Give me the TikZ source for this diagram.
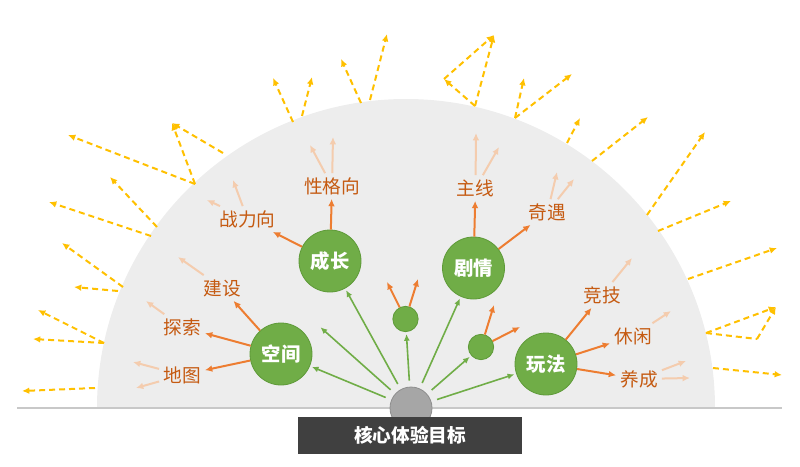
\documentclass[tikz,border=0pt]{standalone}
\usepackage{fontspec}
\setmainfont{Noto Sans CJK SC}
\usetikzlibrary{arrows.meta}
\definecolor{semigray}{HTML}{EDEDED}
\definecolor{baseg}{HTML}{C8C8C8}
\definecolor{coreg}{HTML}{A6A6A6}
\definecolor{coreb}{HTML}{8E8E8E}
\definecolor{boxg}{HTML}{404040}
\definecolor{gfill}{HTML}{70AD47}
\definecolor{gdraw}{HTML}{5E9A38}
\definecolor{oarr}{HTML}{ED7D31}
\definecolor{otext}{HTML}{C55A11}
\definecolor{larr}{HTML}{F4CCAE}
\definecolor{yarr}{HTML}{FFC000}
\begin{document}
\begin{tikzpicture}[x=0.75pt,y=-0.75pt,
  core/.style={circle,fill=coreg,draw=coreb,line width=0.6pt,minimum size=31.5pt,inner sep=0pt},
  titlebox/.style={rectangle,fill=boxg,minimum width=168pt,minimum height=27.75pt,inner sep=0pt,
     text=white,font=\fontsize{14pt}{14pt}\selectfont\bfseries},
  bigc/.style={circle,fill=gfill,draw=gdraw,line width=0.6pt,minimum size=46.5pt,inner sep=0pt,
     text=white,font=\fontsize{14.5pt}{14.5pt}\selectfont\bfseries},
  smallc/.style={circle,fill=gfill,draw=gdraw,line width=0.6pt,minimum size=19pt,inner sep=0pt},
  lbl/.style={text=otext,inner sep=3pt,font=\fontsize{14pt}{14pt}\selectfont},
  garrow/.style={draw=gfill,line width=1.2pt,-{Latex[length=5pt,width=4.5pt]},shorten <=4.5pt,shorten >=1.5pt},
  oarrow/.style={draw=oarr,line width=1.5pt,-{Latex[length=5.5pt,width=5pt]}},
  larrow/.style={draw=larr,line width=1.5pt,-{Latex[length=5.5pt,width=5pt]}},
  yarrow/.style={draw=yarr,line width=1.5pt,dash pattern=on 4.5pt off 3pt,-{Latex[length=5.5pt,width=5pt]}},
  yline/.style={draw=yarr,line width=1.5pt,dash pattern=on 4.5pt off 3pt}
]
\useasboundingbox (0,0) rectangle (800,467);
% background half disc
\fill[semigray] (97,408) arc[start angle=180,end angle=360,radius=309] -- cycle;
\draw[baseg,line width=1.2pt] (17,408) -- (782,408);

% yellow dashed arrow end points
\coordinate (a1) at (95,388);  \coordinate (b1) at (22,391);
\coordinate (a2) at (104,343); \coordinate (b2) at (33,339); \coordinate (b3) at (38,310);
\coordinate (a4) at (118,291); \coordinate (b4) at (74,287);
\coordinate (a5) at (123,287); \coordinate (b5) at (62,243);
\coordinate (a6) at (151,236); \coordinate (b6) at (49,202);
\coordinate (a7) at (157,227); \coordinate (b7) at (110,177);
\coordinate (a8) at (195,184); \coordinate (b8) at (68,135); \coordinate (b9) at (172,123);
\coordinate (a10) at (223,153);
\coordinate (a11) at (293,122); \coordinate (b11) at (273,78);
\coordinate (a12) at (302,116); \coordinate (b12) at (312,77);
\coordinate (a13) at (361,103); \coordinate (b13) at (341,59);
\coordinate (a14) at (370,100); \coordinate (b14) at (387,34);
\coordinate (a15) at (475,106); \coordinate (b15) at (444,79); \coordinate (b16) at (494,35);
\coordinate (a18) at (515,118); \coordinate (b18) at (524,78); \coordinate (b19) at (572,74);
\coordinate (a20) at (567,143); \coordinate (b20) at (580,118);
\coordinate (a21) at (592,161); \coordinate (b21) at (648,117);
\coordinate (a22) at (647,215); \coordinate (b22) at (705,132);
\coordinate (a23) at (658,231); \coordinate (b23) at (731,201);
\coordinate (a24) at (688,279); \coordinate (b24) at (777,248);
\coordinate (a25) at (706,333); \coordinate (b25) at (776,307); \coordinate (c25) at (757,339);
\coordinate (a28) at (713,368); \coordinate (b28) at (782,375);

\draw[yarrow] (a1) -- (b1);
\draw[yarrow] (a2) -- (b2);
\draw[yarrow] (a2) -- (b3);
\draw[yarrow] (a4) -- (b4);
\draw[yarrow] (a5) -- (b5);
\draw[yarrow] (a6) -- (b6);
\draw[yarrow] (a7) -- (b7);
\draw[yarrow] (a8) -- (b8);
\draw[yarrow] (a8) -- (b9);
\draw[yarrow] (a10) -- (b9);
\draw[yarrow] (a11) -- (b11);
\draw[yarrow] (a12) -- (b12);
\draw[yarrow] (a13) -- (b13);
\draw[yarrow] (a14) -- (b14);
\draw[yarrow] (a15) -- (b15);
\draw[yarrow] (a15) -- (b16);
\draw[yarrow] (b15) -- (b16);
\draw[yarrow] (a18) -- (b18);
\draw[yarrow] (a18) -- (b19);
\draw[yarrow] (a20) -- (b20);
\draw[yarrow] (a21) -- (b21);
\draw[yarrow] (a22) -- (b22);
\draw[yarrow] (a23) -- (b23);
\draw[yarrow] (a24) -- (b24);
\draw[yarrow] (a25) -- (b25);
\draw[yline] (a25) -- (c25);
\draw[yarrow] (c25) -- (b25);
\draw[yarrow] (a28) -- (b28);

% core and title
\node[core] (core) at (411,408) {};
\node[titlebox] (title) at (410,435.5) {核心体验目标};

% green circles
\node[bigc] (kongjian) at (281,354) {空间};
\node[bigc] (chengzhang) at (330,261) {成长};
\node[bigc] (juqing) at (473.5,268) {剧情};
\node[bigc] (wanfa) at (546,364) {玩法};
\node[smallc] (s1) at (405.5,319) {};
\node[smallc] (s2) at (481,347) {};
\coordinate (g0) at (319,326);

% green arrows
\draw[garrow] (core) -- (kongjian);
\draw[garrow] (core) -- (g0);
\draw[garrow] (core) -- (chengzhang);
\draw[garrow] (core) -- (s1);
\draw[garrow] (core) -- (juqing);
\draw[garrow] (core) -- (s2);
\draw[garrow] (core) -- (wanfa);

% labels
\node[lbl] (jianshe) at (222,288) {建设};
\node[lbl] (tansuo) at (182,327) {探索};
\node[lbl] (ditu) at (182,375) {地图};
\node[lbl] (zhanli) at (247.5,219) {战力向};
\node[lbl] (xingge) at (332,186) {性格向};
\node[lbl] (zhuxian) at (475.5,188) {主线};
\node[lbl] (qiyu) at (547.5,212) {奇遇};
\node[lbl] (jingji) at (602,295) {竞技};
\node[lbl] (xiuxian) at (633,336) {休闲};
\node[lbl] (yangcheng) at (639,379) {养成};

% orange arrows
\draw[oarrow] (kongjian) -- (jianshe);
\draw[oarrow] (kongjian) -- (tansuo);
\draw[oarrow] (kongjian) -- (ditu);
\draw[oarrow] (chengzhang) -- (zhanli);
\draw[oarrow] (chengzhang) -- (xingge);
\draw[oarrow] (juqing) -- (zhuxian);
\draw[oarrow] (juqing) -- (qiyu);
\draw[oarrow] (wanfa) -- (jingji);
\draw[oarrow] (wanfa) -- (xiuxian);
\draw[oarrow] (wanfa) -- (yangcheng);
\coordinate (o1) at (387,282); \coordinate (o2) at (418,279);
\coordinate (o3) at (494,305); \coordinate (o4) at (520,327);
\draw[oarrow] (s1) -- (o1);
\draw[oarrow] (s1) -- (o2);
\draw[oarrow] (s2) -- (o3);
\draw[oarrow] (s2) -- (o4);

% light arrows
\coordinate (l1) at (178,257);
\coordinate (l2) at (146,301);
\coordinate (l3) at (133,362); \coordinate (l4) at (136,388);
\coordinate (l5) at (233,180); \coordinate (l6) at (207,200);
\coordinate (l7) at (333,137); \coordinate (l8) at (310,145);
\coordinate (l9) at (476,133); \coordinate (l10) at (499,147);
\coordinate (l11) at (557,172); \coordinate (l12) at (574,179);
\coordinate (l13) at (632,258);
\coordinate (l14) at (671,311);
\coordinate (l15) at (686,361); \coordinate (l16) at (690,378);
\draw[larrow] (jianshe) -- (l1);
\draw[larrow] (tansuo) -- (l2);
\draw[larrow] (ditu) -- (l3);
\draw[larrow] (ditu) -- (l4);
\draw[larrow] (zhanli) -- (l5);
\draw[larrow] (zhanli) -- (l6);
\draw[larrow] (xingge) -- (l7);
\draw[larrow] (xingge) -- (l8);
\draw[larrow] (zhuxian) -- (l9);
\draw[larrow] (zhuxian) -- (l10);
\draw[larrow] (qiyu) -- (l11);
\draw[larrow] (qiyu) -- (l12);
\draw[larrow] (jingji) -- (l13);
\draw[larrow] (xiuxian) -- (l14);
\draw[larrow] (yangcheng) -- (l15);
\draw[larrow] (yangcheng) -- (l16);
\end{tikzpicture}
\end{document}
